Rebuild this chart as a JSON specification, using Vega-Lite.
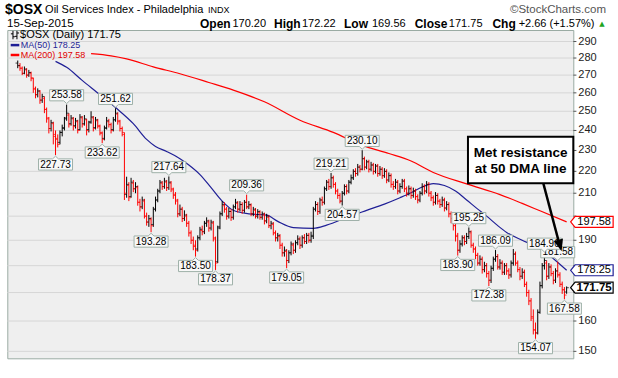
{
"$schema": "https://vega.github.io/schema/vega-lite/v6.json",
"width": 566, "height": 328.3,
"autosize": {"type": "none"},
"padding": {"left": 7.3, "top": 30, "right": 44.7, "bottom": 19.7},
"background": "#ffffff",
"config": {"view": {"stroke": "#9aaba3", "strokeWidth": 1, "fill": "#efefef"}, "font": "Liberation Sans"},
"datasets": {
"yt": [{"v":150},{"v":160},{"v":170},{"v":180},{"v":190},{"v":200},{"v":210},{"v":220},{"v":230},{"v":240},{"v":250},{"v":260},{"v":270},{"v":280},{"v":290}],
"px": [
{"i":-7,"o":277,"h":278.5,"l":274,"c":275.5},{"i":-6,"o":275.5,"h":277,"l":272.5,"c":274},{"i":-5,"o":274,"h":275,"l":270,"c":271},{"i":-4,"o":271,"h":275,"l":270.5,"c":273.5},{"i":-3,"o":273,"h":274,"l":268.5,"c":270},{"i":-2,"o":270,"h":273,"l":269,"c":271.5},{"i":-1,"o":271,"h":272,"l":266.5,"c":268.5},
{"i":0,"o":268,"h":268.5,"l":260,"c":262.5},{"i":1,"o":262,"h":263.5,"l":257,"c":259},{"i":2,"o":259,"h":262.5,"l":257.5,"c":261},{"i":3,"o":261,"h":261.5,"l":254,"c":256},{"i":4,"o":256,"h":259.5,"l":254.5,"c":258},{"i":5,"o":257,"h":258,"l":249,"c":251},{"i":6,"o":251,"h":252,"l":244,"c":246.5},{"i":7,"o":246,"h":247,"l":238.5,"c":241},{"i":8,"o":241,"h":245.5,"l":239.5,"c":244},{"i":9,"o":243.5,"h":244.5,"l":233,"c":238},
{"i":10,"o":237,"h":240,"l":227.73,"c":236},{"i":11,"o":235.5,"h":238,"l":231.5,"c":233},{"i":12,"o":234,"h":240,"l":233,"c":239},{"i":13,"o":239,"h":243,"l":237,"c":241},{"i":14,"o":241.5,"h":247,"l":240,"c":246},{"i":15,"o":246.5,"h":253.58,"l":245,"c":249},{"i":16,"o":248,"h":249,"l":241.5,"c":243},{"i":17,"o":243.5,"h":248,"l":242.5,"c":246.5},{"i":18,"o":246,"h":247,"l":240,"c":242},{"i":19,"o":242.5,"h":246.5,"l":241,"c":245},
{"i":20,"o":244.5,"h":245.5,"l":238.5,"c":240},{"i":21,"o":240.5,"h":248.5,"l":240,"c":247},{"i":22,"o":246.5,"h":247.5,"l":241.5,"c":243},{"i":23,"o":243.5,"h":248,"l":242.5,"c":246},{"i":24,"o":245.5,"h":246,"l":237.5,"c":240},{"i":25,"o":240.5,"h":245,"l":239,"c":244},{"i":26,"o":244.5,"h":250,"l":243.5,"c":247},{"i":27,"o":246.5,"h":247.5,"l":239.5,"c":241},{"i":28,"o":241.5,"h":247,"l":240.5,"c":245.5},{"i":29,"o":245,"h":246,"l":241,"c":242.5},
{"i":30,"o":242,"h":243,"l":237.5,"c":239},{"i":31,"o":238.5,"h":239.5,"l":233.62,"c":235.5},{"i":32,"o":236,"h":242.5,"l":235,"c":241},{"i":33,"o":241.5,"h":247,"l":240.5,"c":245},{"i":34,"o":244.5,"h":246,"l":241.5,"c":243},{"i":35,"o":243,"h":244,"l":238.5,"c":240},{"i":36,"o":240.5,"h":247,"l":239.5,"c":245.5},{"i":37,"o":245.5,"h":251.62,"l":244.5,"c":249},{"i":38,"o":248.5,"h":249.5,"l":243,"c":245},{"i":39,"o":244.5,"h":245.5,"l":239.5,"c":241},
{"i":40,"o":241,"h":242,"l":237,"c":239},{"i":41,"o":238,"h":239,"l":207,"c":210},{"i":42,"o":209.5,"h":217.5,"l":208,"c":214},{"i":43,"o":213.5,"h":215,"l":206.5,"c":208},{"i":44,"o":208.5,"h":217,"l":208,"c":215},{"i":45,"o":214.5,"h":216,"l":210.5,"c":212},{"i":46,"o":212,"h":215,"l":210,"c":213},{"i":47,"o":212.5,"h":213.5,"l":204.5,"c":206},{"i":48,"o":206,"h":207.5,"l":202,"c":204},{"i":49,"o":204,"h":208.5,"l":203,"c":207},
{"i":50,"o":206.5,"h":207.5,"l":199,"c":200},{"i":51,"o":200,"h":201.5,"l":196,"c":197.5},{"i":52,"o":197.5,"h":200.5,"l":195.5,"c":199},{"i":53,"o":198.5,"h":199.5,"l":193.28,"c":196},{"i":54,"o":196.5,"h":204,"l":195.5,"c":203},{"i":55,"o":203,"h":208.5,"l":202,"c":207},{"i":56,"o":207,"h":212,"l":206,"c":211},{"i":57,"o":211,"h":216,"l":210,"c":215},{"i":58,"o":214.5,"h":215.5,"l":211.5,"c":213},{"i":59,"o":213,"h":217,"l":212,"c":215.5},
{"i":60,"o":215,"h":216,"l":211,"c":212.5},{"i":61,"o":212.5,"h":217.64,"l":211.5,"c":215},{"i":62,"o":214.5,"h":215.5,"l":210.5,"c":212},{"i":63,"o":211.5,"h":212.5,"l":207.5,"c":209},{"i":64,"o":209.5,"h":210.5,"l":205,"c":207},{"i":65,"o":206.5,"h":207.5,"l":199.5,"c":201},{"i":66,"o":201,"h":205,"l":200,"c":203},{"i":67,"o":203,"h":204,"l":197.5,"c":199},{"i":68,"o":199,"h":202.5,"l":198,"c":200.5},{"i":69,"o":200,"h":201,"l":195.5,"c":197},
{"i":70,"o":197,"h":198,"l":191.5,"c":193},{"i":71,"o":193,"h":194,"l":188.5,"c":190},{"i":72,"o":190,"h":191.5,"l":186,"c":188},{"i":73,"o":187.5,"h":190,"l":183.5,"c":186},{"i":74,"o":186.5,"h":192,"l":185.5,"c":191},{"i":75,"o":191,"h":195.5,"l":190,"c":194.5},{"i":76,"o":194,"h":196,"l":192,"c":193.5},{"i":77,"o":193.5,"h":198,"l":192.5,"c":197},{"i":78,"o":197,"h":199.5,"l":195.5,"c":198},{"i":79,"o":197.5,"h":198.5,"l":193.5,"c":195},
{"i":80,"o":195,"h":198.5,"l":194,"c":197.5},{"i":81,"o":197,"h":198,"l":189.5,"c":191},{"i":82,"o":190.5,"h":191.5,"l":178.37,"c":181},{"i":83,"o":181.5,"h":196,"l":181,"c":195},{"i":84,"o":195.5,"h":202,"l":194.5,"c":201},{"i":85,"o":201,"h":206.5,"l":200,"c":205},{"i":86,"o":204.5,"h":206,"l":201.5,"c":203},{"i":87,"o":203,"h":204,"l":198.5,"c":200},{"i":88,"o":200,"h":203.5,"l":199,"c":202},{"i":89,"o":202,"h":203,"l":198,"c":199.5},
{"i":90,"o":199.5,"h":205,"l":198.5,"c":204},{"i":91,"o":204,"h":207.5,"l":203,"c":206},{"i":92,"o":205.5,"h":206.5,"l":201.5,"c":203},{"i":93,"o":203,"h":206.5,"l":202,"c":205},{"i":94,"o":205,"h":206,"l":201,"c":202.5},{"i":95,"o":202.5,"h":207,"l":201.5,"c":206},{"i":96,"o":206,"h":209.36,"l":203,"c":204},{"i":97,"o":204,"h":206.5,"l":203,"c":205},{"i":98,"o":204.5,"h":205.5,"l":200,"c":201},{"i":99,"o":201,"h":204,"l":200,"c":203},
{"i":100,"o":202.5,"h":203.5,"l":199,"c":200},{"i":101,"o":200,"h":203,"l":199,"c":202},{"i":102,"o":201.5,"h":202.5,"l":198.5,"c":199.5},{"i":103,"o":199.5,"h":202,"l":198.5,"c":201},{"i":104,"o":200.5,"h":201.5,"l":196.5,"c":198},{"i":105,"o":198,"h":201,"l":197,"c":200},{"i":106,"o":199.5,"h":200.5,"l":195,"c":196},{"i":107,"o":196,"h":198,"l":194.5,"c":197},{"i":108,"o":196.5,"h":197.5,"l":192,"c":193},{"i":109,"o":193,"h":194,"l":189.5,"c":191},
{"i":110,"o":191,"h":193,"l":189.5,"c":192},{"i":111,"o":191.5,"h":192.5,"l":186.5,"c":188},{"i":112,"o":188,"h":189,"l":183.5,"c":185},{"i":113,"o":185,"h":187.5,"l":183.5,"c":186},{"i":114,"o":185.5,"h":186.5,"l":179.05,"c":182},{"i":115,"o":182,"h":186,"l":181,"c":185},{"i":116,"o":185,"h":189.5,"l":184,"c":188.5},{"i":117,"o":188,"h":189,"l":184.5,"c":186},{"i":118,"o":186,"h":190,"l":185,"c":189},{"i":119,"o":189,"h":192,"l":188,"c":190.5},
{"i":120,"o":190.5,"h":191.5,"l":186.5,"c":188},{"i":121,"o":188,"h":192,"l":187,"c":191},{"i":122,"o":191,"h":192.5,"l":188.5,"c":189.5},{"i":123,"o":189.5,"h":193,"l":188.5,"c":192},{"i":124,"o":192,"h":193,"l":189,"c":190},{"i":125,"o":190,"h":193.5,"l":189,"c":192},{"i":126,"o":191.5,"h":204,"l":190.5,"c":203},{"i":127,"o":203,"h":206.5,"l":202,"c":205},{"i":128,"o":205,"h":206,"l":200.5,"c":202},{"i":129,"o":202,"h":208,"l":201,"c":207},
{"i":130,"o":207,"h":208.5,"l":204.5,"c":206},{"i":131,"o":206,"h":213,"l":205,"c":212},{"i":132,"o":212,"h":216,"l":211,"c":215},{"i":133,"o":215,"h":216.5,"l":211.5,"c":213},{"i":134,"o":213,"h":219.21,"l":212,"c":217},{"i":135,"o":217,"h":218,"l":212.5,"c":214},{"i":136,"o":214,"h":215,"l":209.5,"c":211},{"i":137,"o":211,"h":212,"l":207.5,"c":209},{"i":138,"o":209,"h":210,"l":205.5,"c":206.5},{"i":139,"o":206.5,"h":211,"l":204.57,"c":210},
{"i":140,"o":210,"h":214,"l":209,"c":213},{"i":141,"o":213,"h":214,"l":209.5,"c":211},{"i":142,"o":211,"h":216,"l":210,"c":215},{"i":143,"o":215,"h":218.5,"l":214,"c":217},{"i":144,"o":217,"h":221,"l":216,"c":220},{"i":145,"o":220,"h":221.5,"l":217.5,"c":219},{"i":146,"o":219,"h":223.5,"l":218,"c":222},{"i":147,"o":222,"h":223,"l":219.5,"c":221},{"i":148,"o":221,"h":230.1,"l":220.5,"c":226},{"i":149,"o":226,"h":227,"l":220.5,"c":222},
{"i":150,"o":222,"h":225.5,"l":221,"c":224.5},{"i":151,"o":224.5,"h":225.5,"l":219.5,"c":221},{"i":152,"o":221,"h":224.5,"l":220,"c":223},{"i":153,"o":223,"h":224,"l":218.5,"c":220},{"i":154,"o":220,"h":223.5,"l":219,"c":222.5},{"i":155,"o":222.5,"h":223.5,"l":217.5,"c":219},{"i":156,"o":219,"h":222.5,"l":218,"c":221},{"i":157,"o":221,"h":222,"l":216.5,"c":218},{"i":158,"o":218,"h":221.5,"l":217,"c":220},{"i":159,"o":220,"h":221,"l":214.5,"c":216},
{"i":160,"o":216,"h":219.5,"l":215,"c":218},{"i":161,"o":218,"h":219,"l":212.5,"c":214},{"i":162,"o":214,"h":215.5,"l":211.5,"c":213},{"i":163,"o":213,"h":216.5,"l":212,"c":215},{"i":164,"o":215,"h":216,"l":209.5,"c":211},{"i":165,"o":211,"h":214.5,"l":210,"c":213},{"i":166,"o":213,"h":216.5,"l":212,"c":215.5},{"i":167,"o":215.5,"h":216.5,"l":210.5,"c":212},{"i":168,"o":212,"h":213,"l":208.5,"c":210},{"i":169,"o":210,"h":213.5,"l":209,"c":212},
{"i":170,"o":212,"h":213,"l":207.5,"c":209},{"i":171,"o":209,"h":212.5,"l":208,"c":211},{"i":172,"o":211,"h":212,"l":207,"c":208.5},{"i":173,"o":208.5,"h":209.5,"l":205.5,"c":207},{"i":174,"o":207,"h":211,"l":206,"c":210},{"i":175,"o":210,"h":214.5,"l":209,"c":213},{"i":176,"o":213,"h":214,"l":209.5,"c":211},{"i":177,"o":211,"h":215.5,"l":210,"c":214},{"i":178,"o":214,"h":215,"l":208.5,"c":210},{"i":179,"o":210,"h":211,"l":206.5,"c":208},
{"i":180,"o":208,"h":209,"l":204.5,"c":206},{"i":181,"o":206,"h":210.5,"l":205,"c":209},{"i":182,"o":209,"h":210,"l":205,"c":206.5},{"i":183,"o":206.5,"h":207.5,"l":203.5,"c":205},{"i":184,"o":205,"h":208.5,"l":204,"c":207},{"i":185,"o":207,"h":208,"l":202,"c":203.5},{"i":186,"o":203.5,"h":206.5,"l":202.5,"c":205},{"i":187,"o":205,"h":206,"l":199.5,"c":201},{"i":188,"o":201,"h":202,"l":197,"c":199},{"i":189,"o":199,"h":200,"l":194,"c":196},
{"i":190,"o":196,"h":197,"l":189.5,"c":192},{"i":191,"o":191.5,"h":193,"l":183.9,"c":186},{"i":192,"o":186,"h":190,"l":185,"c":188.5},{"i":193,"o":188.5,"h":192,"l":187.5,"c":191},{"i":194,"o":191,"h":192,"l":188,"c":189.5},{"i":195,"o":189.5,"h":193,"l":188.5,"c":191.5},{"i":196,"o":191.5,"h":195.25,"l":190.5,"c":193.5},{"i":197,"o":193,"h":194,"l":187,"c":188},{"i":198,"o":188,"h":189,"l":185,"c":186.5},{"i":199,"o":186.5,"h":187.5,"l":182.5,"c":184},
{"i":200,"o":184,"h":185,"l":180,"c":181},{"i":201,"o":181,"h":184,"l":180,"c":182.5},{"i":202,"o":182.5,"h":183.5,"l":177,"c":178.5},{"i":203,"o":178.5,"h":181.5,"l":177.5,"c":180},{"i":204,"o":180,"h":181,"l":175.5,"c":177},{"i":205,"o":177,"h":178,"l":172.38,"c":174.5},{"i":206,"o":174.5,"h":180,"l":173.5,"c":179},{"i":207,"o":179,"h":183.5,"l":178,"c":182.5},{"i":208,"o":182.5,"h":186.09,"l":181.5,"c":183.5},{"i":209,"o":183.5,"h":184.5,"l":178.5,"c":179.5},
{"i":210,"o":179.5,"h":182.5,"l":178.5,"c":181},{"i":211,"o":181,"h":182,"l":176.5,"c":177.5},{"i":212,"o":177.5,"h":181,"l":176.5,"c":180},{"i":213,"o":180,"h":181,"l":176.5,"c":178},{"i":214,"o":178,"h":179,"l":175,"c":176.5},{"i":215,"o":176.5,"h":182,"l":175.5,"c":181},{"i":216,"o":181,"h":186.5,"l":180,"c":184.5},{"i":217,"o":184.5,"h":185.5,"l":180,"c":181},{"i":218,"o":181,"h":182,"l":177.5,"c":178.5},{"i":219,"o":178.5,"h":179.5,"l":174.5,"c":176},
{"i":220,"o":176,"h":179,"l":175,"c":177.5},{"i":221,"o":177.5,"h":178.5,"l":172,"c":173},{"i":222,"o":173,"h":174,"l":168.5,"c":170},{"i":223,"o":170,"h":171,"l":165.5,"c":167},{"i":224,"o":167,"h":168,"l":160,"c":161.5},{"i":225,"o":161,"h":164,"l":155.5,"c":157},{"i":226,"o":157,"h":159.5,"l":154.07,"c":156},{"i":227,"o":156,"h":164,"l":155.5,"c":163},{"i":228,"o":163,"h":174,"l":162.5,"c":172.5},{"i":229,"o":172.5,"h":181,"l":171.5,"c":180},
{"i":230,"o":180,"h":184.9,"l":178.5,"c":182},{"i":231,"o":181,"h":182,"l":174.5,"c":176},{"i":232,"o":176,"h":181,"l":175,"c":179.5},{"i":233,"o":179.5,"h":180.5,"l":176,"c":177},{"i":234,"o":177,"h":178,"l":173,"c":174.5},{"i":235,"o":174.5,"h":179,"l":173.5,"c":178},{"i":236,"o":178,"h":181.58,"l":175.5,"c":176.5},{"i":237,"o":176.5,"h":177.5,"l":172,"c":173},{"i":238,"o":173,"h":174,"l":169.5,"c":171},{"i":239,"o":171,"h":172,"l":167.58,"c":169.09},
{"i":240,"o":170.2,"h":172.22,"l":169.56,"c":171.75}
],
"ma": [
{"s":"MA(50)","i":10,"v":278},{"s":"MA(50)","i":15,"v":274.5},{"s":"MA(50)","i":22,"v":267},{"s":"MA(50)","i":30,"v":259},{"s":"MA(50)","i":37,"v":252},{"s":"MA(50)","i":45,"v":243.5},{"s":"MA(50)","i":51,"v":235.5},{"s":"MA(50)","i":55,"v":232},{"s":"MA(50)","i":60,"v":229.5},{"s":"MA(50)","i":66,"v":226},{"s":"MA(50)","i":70,"v":223},{"s":"MA(50)","i":75,"v":218.5},{"s":"MA(50)","i":80,"v":212.5},{"s":"MA(50)","i":85,"v":206.5},{"s":"MA(50)","i":90,"v":202.5},{"s":"MA(50)","i":97,"v":201},{"s":"MA(50)","i":105,"v":200.4},{"s":"MA(50)","i":110,"v":197.8},{"s":"MA(50)","i":117,"v":195.2},{"s":"MA(50)","i":126,"v":194.9},{"s":"MA(50)","i":132,"v":196.2},{"s":"MA(50)","i":142,"v":199.8},{"s":"MA(50)","i":150,"v":202.5},{"s":"MA(50)","i":158,"v":205.2},{"s":"MA(50)","i":165,"v":208},{"s":"MA(50)","i":170,"v":210.2},{"s":"MA(50)","i":175,"v":212.8},{"s":"MA(50)","i":180,"v":214.3},{"s":"MA(50)","i":185,"v":213.5},{"s":"MA(50)","i":190,"v":211},{"s":"MA(50)","i":195,"v":207},{"s":"MA(50)","i":200,"v":203},{"s":"MA(50)","i":204,"v":200},{"s":"MA(50)","i":209,"v":196},{"s":"MA(50)","i":213,"v":193.2},{"s":"MA(50)","i":220,"v":190},{"s":"MA(50)","i":225,"v":188},{"s":"MA(50)","i":230,"v":185.5},{"s":"MA(50)","i":235,"v":182},{"s":"MA(50)","i":240,"v":178.25},
{"s":"MA(200)","i":26,"v":282.6},{"s":"MA(200)","i":35,"v":281.3},{"s":"MA(200)","i":42,"v":279.5},{"s":"MA(200)","i":54,"v":274.8},{"s":"MA(200)","i":66,"v":270.8},{"s":"MA(200)","i":79,"v":265.8},{"s":"MA(200)","i":90,"v":261.5},{"s":"MA(200)","i":104,"v":255.1},{"s":"MA(200)","i":120,"v":245.3},{"s":"MA(200)","i":135,"v":239},{"s":"MA(200)","i":148,"v":232.5},{"s":"MA(200)","i":160,"v":228.5},{"s":"MA(200)","i":170,"v":224.9},{"s":"MA(200)","i":180,"v":219.5},{"s":"MA(200)","i":195,"v":214.2},{"s":"MA(200)","i":210,"v":209.4},{"s":"MA(200)","i":220,"v":205.5},{"s":"MA(200)","i":228,"v":202.3},{"s":"MA(200)","i":240,"v":197.58}
],
"hidden": [
{"i":236,"v":181.58,"t":"181.58","k":"high"}
],
"tags": [
{"i":10,"v":227.73,"t":"227.73","k":"low"},{"i":15,"v":253.58,"t":"253.58","k":"high"},{"i":31,"v":233.62,"t":"233.62","k":"low"},{"i":37,"v":251.62,"t":"251.62","k":"high"},{"i":53,"v":193.28,"t":"193.28","k":"low"},{"i":61,"v":217.64,"t":"217.64","k":"high"},{"i":73,"v":183.5,"t":"183.50","k":"low"},{"i":82,"v":178.37,"t":"178.37","k":"low"},{"i":96,"v":209.36,"t":"209.36","k":"high"},{"i":114,"v":179.05,"t":"179.05","k":"low"},{"i":134,"v":219.21,"t":"219.21","k":"high"},{"i":139,"v":204.57,"t":"204.57","k":"low"},{"i":148,"v":230.1,"t":"230.10","k":"high"},{"i":191,"v":183.9,"t":"183.90","k":"low"},{"i":196,"v":195.25,"t":"195.25","k":"high"},{"i":205,"v":172.38,"t":"172.38","k":"low"},{"i":208,"v":186.09,"t":"186.09","k":"high"},{"i":226,"v":154.07,"t":"154.07","k":"low"},{"i":230,"v":184.9,"t":"184.90","k":"high"},{"i":239,"v":167.58,"t":"167.58","k":"low"}
],
"ends": [
{"v":197.58,"s":"MA(200)"},{"v":178.25,"s":"MA(50)"},{"v":171.75,"s":"$OSX"}
]
},
"layer": [
{
 "data": {"name": "yt"},
 "encoding": {
  "y": {"field": "v", "type": "quantitative", "scale": {"type": "log", "domain": [147.8, 297.2], "nice": false}, "axis": null}
 },
 "layer": [
  {"mark": {"type": "rule", "color": "#d6d6d6", "strokeWidth": 1},
   "encoding": {"x": {"datum": -11.7, "type": "quantitative", "scale": {"domain": [-11.7, 243], "nice": false, "zero": false},
     "axis": {"orient": "bottom", "values": [0,23,42,64,84,103,125,146,166,188,210,231],
      "labelExpr": "datum.value == 0 ? 'Oct' : datum.value == 23 ? 'Nov' : datum.value == 42 ? 'Dec' : datum.value == 64 ? '2015' : datum.value == 84 ? 'Feb' : datum.value == 103 ? 'Mar' : datum.value == 125 ? 'Apr' : datum.value == 146 ? 'May' : datum.value == 166 ? 'Jun' : datum.value == 188 ? 'Jul' : datum.value == 210 ? 'Aug' : 'Sep'",
      "title": null, "grid": true,
      "gridColor": {"condition": {"test": "datum.value == 64", "value": "#a9a9a9"}, "value": "#d6d6d6"},
      "domain": false, "ticks": false, "labelPadding": 4, "labelFontSize": 11, "labelFont": "Liberation Sans", "labelColor": "#222222",
      "labelFontWeight": {"condition": {"test": "datum.value == 64", "value": "bold"}, "value": "normal"},
      "labelOverlap": false, "labelFlush": false}},
    "x2": {"datum": 243}}},
  {"mark": {"type": "rule", "color": "#555555", "strokeWidth": 1},
   "encoding": {"x": {"datum": 243, "type": "quantitative", "axis": null}, "x2": {"datum": 244.4}}},
  {"transform": [{"filter": "datum.v != 170 && datum.v != 180 && datum.v != 200"}],
   "mark": {"type": "text", "align": "left", "baseline": "middle", "dx": 5, "font": "Liberation Sans", "fontSize": 11, "color": "#222222"},
   "encoding": {"x": {"datum": 243, "type": "quantitative", "axis": null}, "text": {"field": "v", "type": "quantitative", "format": "d"}}}
 ]
},
{
 "data": {"name": "ma"},
 "mark": {"type": "line", "strokeWidth": 1.2, "interpolate": "monotone"},
 "encoding": {
  "x": {"field": "i", "type": "quantitative", "axis": null},
  "y": {"field": "v", "type": "quantitative", "axis": null},
  "color": {"field": "s", "type": "nominal", "scale": {"domain": ["MA(50)", "MA(200)"], "range": ["#1f1f96", "#ff0000"]}, "legend": null}
 }
},
{
 "data": {"name": "px"},
 "transform": [{"window": [{"op": "lag", "field": "c", "as": "pc"}], "sort": [{"field": "i"}]}],
 "encoding": {
  "x": {"field": "i", "type": "quantitative", "axis": null},
  "color": {"condition": {"test": "datum.pc != null && datum.c < datum.pc", "value": "#ff0000"}, "value": "#000000"}
 },
 "layer": [
  {"mark": {"type": "rule", "strokeWidth": 1},
   "encoding": {"y": {"field": "l", "type": "quantitative", "axis": null}, "y2": {"field": "h"}}},
  {"mark": {"type": "tick", "orient": "horizontal", "size": 2.2, "thickness": 1, "xOffset": -1.1},
   "encoding": {"y": {"field": "o", "type": "quantitative", "axis": null}}},
  {"mark": {"type": "tick", "orient": "horizontal", "size": 2.2, "thickness": 1, "xOffset": 1.1},
   "encoding": {"y": {"field": "c", "type": "quantitative", "axis": null}}}
 ]
},
{
 "data": {"name": "hidden"},
 "encoding": {
  "x": {"field": "i", "type": "quantitative", "axis": null},
  "y": {"field": "v", "type": "quantitative", "axis": null}
 },
 "layer": [
  {"mark": {"type": "point", "filled": true, "fill": "#f8f8f8", "stroke": "#9fb1a9", "strokeWidth": 1, "size": 1156, "opacity": 1, "shape": "M0,-0.06L-0.17,-0.22H-1V-0.88H1V-0.22H0.17Z"}},
  {"mark": {"type": "text", "font": "Liberation Sans", "fontSize": 10, "dy": -9.3, "baseline": "middle", "align": "center", "color": "#000000"},
   "encoding": {"text": {"field": "t"}}}
 ]
},
{
 "data": {"name": "tags"},
 "encoding": {
  "x": {"field": "i", "type": "quantitative", "axis": null},
  "y": {"field": "v", "type": "quantitative", "axis": null}
 },
 "layer": [
  {"mark": {"type": "point", "filled": true, "fill": "#f8f8f8", "stroke": "#9fb1a9", "strokeWidth": 1, "size": 1156, "opacity": 1},
   "encoding": {"shape": {"condition": {"test": "datum.k == 'high'", "value": "M0,-0.06L-0.17,-0.22H-1V-0.88H1V-0.22H0.17Z"}, "value": "M0,0.06L-0.17,0.22H-1V0.88H1V0.22H0.17Z"}}},
  {"transform": [{"filter": "datum.k == 'high'"}],
   "mark": {"type": "text", "font": "Liberation Sans", "fontSize": 10, "dy": -9.3, "baseline": "middle", "align": "center", "color": "#000000"},
   "encoding": {"text": {"field": "t"}}},
  {"transform": [{"filter": "datum.k == 'low'"}],
   "mark": {"type": "text", "font": "Liberation Sans", "fontSize": 10, "dy": 9.5, "baseline": "middle", "align": "center", "color": "#000000"},
   "encoding": {"text": {"field": "t"}}}
 ]
},
{
 "data": {"name": "ends"},
 "encoding": {
  "x": {"datum": 241.8, "type": "quantitative", "axis": null},
  "y": {"field": "v", "type": "quantitative", "axis": null}
 },
 "layer": [
  {"mark": {"type": "point", "filled": true, "fill": "#ffffff", "size": 400, "shape": "M0,0L0.45,-0.55H4.25V0.55H0.45Z", "strokeWidth": 1.2, "opacity": 1},
   "encoding": {"stroke": {"condition": [{"test": "datum.s == 'MA(200)'", "value": "#ff0000"}, {"test": "datum.s == 'MA(50)'", "value": "#1f1f96"}], "value": "#000000"}}},
  {"transform": [{"filter": "datum.s != '$OSX'"}],
   "mark": {"type": "text", "dx": 23.5, "font": "Liberation Sans", "fontSize": 11, "baseline": "middle", "align": "center", "color": "#000000"},
   "encoding": {"text": {"field": "v", "type": "quantitative", "format": ".2f"}}},
  {"transform": [{"filter": "datum.s == '$OSX'"}],
   "mark": {"type": "text", "dx": 23.5, "font": "Liberation Sans", "fontSize": 11.5, "fontWeight": "bold", "baseline": "middle", "align": "center", "color": "#000000"},
   "encoding": {"text": {"field": "v", "type": "quantitative", "format": ".2f"}}}
 ]
},
{
 "data": {"values": [{}]},
 "layer": [
  {"mark": {"type": "point", "filled": false, "stroke": "#000000", "strokeWidth": 1, "opacity": 1, "size": 70, "shape": "M-0.45,-1V1M-0.95,-0.3H-0.45M-0.45,0.4H0M0.5,1V-1M0,0.3H0.5M0.5,-0.5H1"},
   "encoding": {"x": {"datum": -8.3, "type": "quantitative", "axis": null}, "y": {"datum": 294.0, "type": "quantitative", "axis": null}}},
  {"mark": {"type": "text", "text": "$OSX (Daily) 171.75", "font": "Liberation Sans", "fontSize": 11, "align": "left", "baseline": "middle", "color": "#000000"},
   "encoding": {"x": {"datum": -5.98, "type": "quantitative", "axis": null}, "y": {"datum": 294.0, "type": "quantitative", "axis": null}}},
  {"mark": {"type": "rule", "strokeWidth": 2.5, "color": "#1f1f96"},
   "encoding": {"x": {"datum": -10.17, "type": "quantitative", "axis": null}, "x2": {"datum": -6.3}, "y": {"datum": 287.8, "type": "quantitative", "axis": null}}},
  {"mark": {"type": "text", "text": "MA(50) 178.25", "font": "Liberation Sans", "fontSize": 9, "align": "left", "baseline": "middle", "color": "#1f1f96"},
   "encoding": {"x": {"datum": -5.67, "type": "quantitative", "axis": null}, "y": {"datum": 287.8, "type": "quantitative", "axis": null}}},
  {"mark": {"type": "rule", "strokeWidth": 2.5, "color": "#ff0000"},
   "encoding": {"x": {"datum": -10.17, "type": "quantitative", "axis": null}, "x2": {"datum": -6.3}, "y": {"datum": 281.8, "type": "quantitative", "axis": null}}},
  {"mark": {"type": "text", "text": "MA(200) 197.58", "font": "Liberation Sans", "fontSize": 9, "align": "left", "baseline": "middle", "color": "#e00000"},
   "encoding": {"x": {"datum": -5.67, "type": "quantitative", "axis": null}, "y": {"datum": 281.8, "type": "quantitative", "axis": null}}},
  {"mark": {"type": "rect", "fill": "#ffffff", "stroke": "#000000", "strokeWidth": 2},
   "encoding": {"x": {"datum": 195.6, "type": "quantitative", "axis": null}, "x2": {"datum": 243}, "y": {"datum": 236.8, "type": "quantitative", "axis": null}, "y2": {"datum": 214.5}}},
  {"mark": {"type": "text", "text": "Met resistance", "font": "Liberation Sans", "fontSize": 13.5, "fontWeight": "bold", "align": "center", "baseline": "middle", "color": "#000000"},
   "encoding": {"x": {"datum": 219.3, "type": "quantitative", "axis": null}, "y": {"datum": 228.7, "type": "quantitative", "axis": null}}},
  {"mark": {"type": "text", "text": "at 50 DMA line", "font": "Liberation Sans", "fontSize": 13.5, "fontWeight": "bold", "align": "center", "baseline": "middle", "color": "#000000"},
   "encoding": {"x": {"datum": 219.3, "type": "quantitative", "axis": null}, "y": {"datum": 221.3, "type": "quantitative", "axis": null}}},
  {"mark": {"type": "rule", "strokeWidth": 2.5, "color": "#000000"},
   "encoding": {"x": {"datum": 229.5, "type": "quantitative", "axis": null}, "y": {"datum": 214.5, "type": "quantitative", "axis": null}, "x2": {"datum": 236.5}, "y2": {"datum": 189.3}}},
  {"mark": {"type": "point", "filled": true, "color": "#000000", "opacity": 1, "shape": "M-0.8,-1L0.8,-1L0,1Z", "size": 144, "angle": -15.5},
   "encoding": {"x": {"datum": 237.0, "type": "quantitative", "axis": null}, "y": {"datum": 187.9, "type": "quantitative", "axis": null}}},
  {"mark": {"type": "text", "text": "$OSX", "font": "Liberation Sans", "fontSize": 14, "fontWeight": "bold", "align": "left", "baseline": "middle", "color": "#000000"},
   "encoding": {"x": {"datum": -12.7, "type": "quantitative", "axis": null}, "y": {"datum": 310.1, "type": "quantitative", "axis": null}}},
  {"mark": {"type": "text", "text": "Oil Services Index - Philadelphia", "font": "Liberation Sans", "fontSize": 11, "align": "left", "baseline": "middle", "color": "#000000"},
   "encoding": {"x": {"datum": 5.3, "type": "quantitative", "axis": null}, "y": {"datum": 310.1, "type": "quantitative", "axis": null}}},
  {"mark": {"type": "text", "text": "INDX", "font": "Liberation Sans", "fontSize": 9, "align": "left", "baseline": "middle", "color": "#000000"},
   "encoding": {"x": {"datum": 78.6, "type": "quantitative", "axis": null}, "y": {"datum": 310.1, "type": "quantitative", "axis": null}}},
  {"mark": {"type": "text", "text": "©StockCharts.com", "font": "Liberation Sans", "fontSize": 11.5, "align": "right", "baseline": "middle", "color": "#555555"},
   "encoding": {"x": {"datum": 257.7, "type": "quantitative", "axis": null}, "y": {"datum": 310.1, "type": "quantitative", "axis": null}}},
  {"mark": {"type": "text", "text": "15-Sep-2015", "font": "Liberation Sans", "fontSize": 11.5, "align": "left", "baseline": "middle", "color": "#000000"},
   "encoding": {"x": {"datum": -11.8, "type": "quantitative", "axis": null}, "y": {"datum": 301.3, "type": "quantitative", "axis": null}}},
  {"mark": {"type": "text", "text": "Open", "font": "Liberation Sans", "fontSize": 12, "fontWeight": "bold", "align": "left", "baseline": "middle", "color": "#000000"},
   "encoding": {"x": {"datum": 75.0, "type": "quantitative", "axis": null}, "y": {"datum": 301.3, "type": "quantitative", "axis": null}}},
  {"mark": {"type": "text", "text": "170.20", "font": "Liberation Sans", "fontSize": 11, "align": "left", "baseline": "middle", "color": "#000000"},
   "encoding": {"x": {"datum": 89.6, "type": "quantitative", "axis": null}, "y": {"datum": 301.3, "type": "quantitative", "axis": null}}},
  {"mark": {"type": "text", "text": "High", "font": "Liberation Sans", "fontSize": 12, "fontWeight": "bold", "align": "left", "baseline": "middle", "color": "#000000"},
   "encoding": {"x": {"datum": 108.3, "type": "quantitative", "axis": null}, "y": {"datum": 301.3, "type": "quantitative", "axis": null}}},
  {"mark": {"type": "text", "text": "172.22", "font": "Liberation Sans", "fontSize": 11, "align": "left", "baseline": "middle", "color": "#000000"},
   "encoding": {"x": {"datum": 120.9, "type": "quantitative", "axis": null}, "y": {"datum": 301.3, "type": "quantitative", "axis": null}}},
  {"mark": {"type": "text", "text": "Low", "font": "Liberation Sans", "fontSize": 12, "fontWeight": "bold", "align": "left", "baseline": "middle", "color": "#000000"},
   "encoding": {"x": {"datum": 139.8, "type": "quantitative", "axis": null}, "y": {"datum": 301.3, "type": "quantitative", "axis": null}}},
  {"mark": {"type": "text", "text": "169.56", "font": "Liberation Sans", "fontSize": 11, "align": "left", "baseline": "middle", "color": "#000000"},
   "encoding": {"x": {"datum": 152.4, "type": "quantitative", "axis": null}, "y": {"datum": 301.3, "type": "quantitative", "axis": null}}},
  {"mark": {"type": "text", "text": "Close", "font": "Liberation Sans", "fontSize": 12, "fontWeight": "bold", "align": "left", "baseline": "middle", "color": "#000000"},
   "encoding": {"x": {"datum": 171.6, "type": "quantitative", "axis": null}, "y": {"datum": 301.3, "type": "quantitative", "axis": null}}},
  {"mark": {"type": "text", "text": "171.75", "font": "Liberation Sans", "fontSize": 11, "align": "left", "baseline": "middle", "color": "#000000"},
   "encoding": {"x": {"datum": 187.0, "type": "quantitative", "axis": null}, "y": {"datum": 301.3, "type": "quantitative", "axis": null}}},
  {"mark": {"type": "text", "text": "Chg", "font": "Liberation Sans", "fontSize": 12, "fontWeight": "bold", "align": "left", "baseline": "middle", "color": "#000000"},
   "encoding": {"x": {"datum": 206.6, "type": "quantitative", "axis": null}, "y": {"datum": 301.3, "type": "quantitative", "axis": null}}},
  {"mark": {"type": "text", "text": "+2.66 (+1.57%)", "font": "Liberation Sans", "fontSize": 11, "align": "left", "baseline": "middle", "color": "#000000"},
   "encoding": {"x": {"datum": 218.4, "type": "quantitative", "axis": null}, "y": {"datum": 301.3, "type": "quantitative", "axis": null}}},
  {"mark": {"type": "text", "text": "▲", "font": "DejaVu Sans", "fontSize": 7, "align": "center", "baseline": "middle", "color": "#1fa51f"},
   "encoding": {"x": {"datum": 255.9, "type": "quantitative", "axis": null}, "y": {"datum": 301.3, "type": "quantitative", "axis": null}}}
 ]
}
]
}
